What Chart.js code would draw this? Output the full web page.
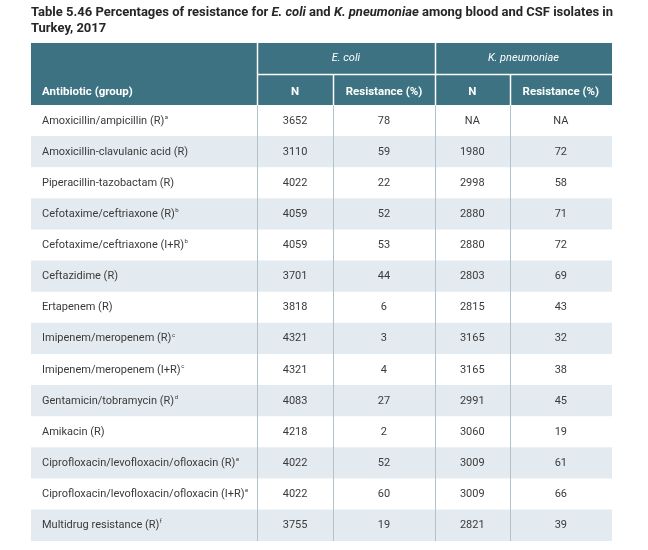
<!DOCTYPE html>
<html>
<head>
<meta charset="utf-8">
<script src="https://cdn.jsdelivr.net/npm/chart.js@4"></script>
<style>
    body { margin: 0; background: #fff; }
    .wrap { position: relative; width: 648px; height: 550px; }
    .title {
        position: absolute; left: 31px; top: 4px; width: 615px;
        font: bold 13px 'Roboto', sans-serif; line-height: 16px; color: #262626;
        white-space: nowrap;
    }
    canvas { position: absolute; left: 0; top: 0; }
</style>
</head>
<body>
<div class="wrap">
    <canvas id="tableChart" width="648" height="550"></canvas>
    <div class="title">Table 5.46 Percentages of resistance for <i>E. coli</i> and <i>K. pneumoniae</i> among blood and CSF isolates in<br>Turkey, 2017</div>
</div>
<script>
const ANTIBIOTICS = [
    'Amoxicillin/ampicillin (R)',
    'Amoxicillin-clavulanic acid (R)',
    'Piperacillin-tazobactam (R)',
    'Cefotaxime/ceftriaxone (R)',
    'Cefotaxime/ceftriaxone (I+R)',
    'Ceftazidime (R)',
    'Ertapenem (R)',
    'Imipenem/meropenem (R)',
    'Imipenem/meropenem (I+R)',
    'Gentamicin/tobramycin (R)',
    'Amikacin (R)',
    'Ciprofloxacin/levofloxacin/ofloxacin (R)',
    'Ciprofloxacin/levofloxacin/ofloxacin (I+R)',
    'Multidrug resistance (R)'
];
const FOOTNOTES = ['a', '', '', 'b', 'b', '', '', 'c', 'c', 'd', '', 'e', 'e', 'f'];

const ECOLI_N = [3652, 3110, 4022, 4059, 4059, 3701, 3818, 4321, 4321, 4083, 4218, 4022, 4022, 3755];
const ECOLI_RES = [78, 59, 22, 52, 53, 44, 6, 3, 4, 27, 2, 52, 60, 19];
const KPN_N = ['NA', 1980, 2998, 2880, 2880, 2803, 2815, 3165, 3165, 2991, 3060, 3009, 3009, 2821];
const KPN_RES = ['NA', 72, 58, 71, 72, 69, 43, 32, 38, 45, 19, 61, 66, 39];

const GROUPS = ['E. coli', 'K. pneumoniae'];
const COLUMNS = ['Antibiotic (group)', 'N', 'Resistance (%)', 'N', 'Resistance (%)'];

// column edges in percent of table width
const EDGES = [0, 38.9, 52.0, 69.5, 82.4, 100];

const HEAD = '#3c7282';
const SHADE = '#e4ebf0';
const LINE = '#b3c1cb';
const TEXT = '#3a3a3a';
const FONT = "'Roboto', sans-serif";

const rowLabels = ['head1', 'head2', ...ANTIBIOTICS];
const rowColors = rowLabels.map((_, i) => i < 2 ? HEAD : ((i - 2) % 2 ? SHADE : '#ffffff'));

const mid = c => (EDGES[c] + EDGES[c + 1]) / 2;

const tablePlugin = {
    id: 'tableText',
    afterDatasetsDraw(chart) {
        const { ctx, scales: { x, y }, chartArea } = chart;
        const top = chartArea.top;
        const step = y.getPixelForValue(1) - y.getPixelForValue(0);
        const half = y.getPixelForValue(0) + step / 2;
        const headBottom = y.getPixelForValue(1) + step / 2;
        const bottom = chartArea.bottom;

        ctx.save();

        // body column lines
        ctx.strokeStyle = LINE;
        ctx.lineWidth = 1;
        for (let c = 1; c < EDGES.length - 1; c++) {
            const px = Math.round(x.getPixelForValue(EDGES[c])) + 0.5;
            ctx.beginPath();
            ctx.moveTo(px, headBottom);
            ctx.lineTo(px, bottom);
            ctx.stroke();
        }

        // header lines
        ctx.strokeStyle = '#ffffff';
        ctx.lineWidth = 1.5;
        [1, 3].forEach(c => {
            const px = Math.round(x.getPixelForValue(EDGES[c])) + 0.5;
            ctx.beginPath(); ctx.moveTo(px, top); ctx.lineTo(px, headBottom); ctx.stroke();
        });
        [2, 4].forEach(c => {
            const px = Math.round(x.getPixelForValue(EDGES[c])) + 0.5;
            ctx.beginPath(); ctx.moveTo(px, half); ctx.lineTo(px, headBottom); ctx.stroke();
        });
        ctx.beginPath();
        ctx.moveTo(x.getPixelForValue(EDGES[1]), Math.round(half) + 0.5);
        ctx.lineTo(x.getPixelForValue(EDGES[5]), Math.round(half) + 0.5);
        ctx.stroke();

        // header text
        ctx.fillStyle = '#ffffff';
        ctx.textBaseline = 'middle';
        ctx.textAlign = 'center';
        ctx.font = 'italic 11px ' + FONT;
        ctx.fillText(GROUPS[0], x.getPixelForValue((EDGES[1] + EDGES[3]) / 2), y.getPixelForValue(0));
        ctx.fillText(GROUPS[1], x.getPixelForValue((EDGES[3] + EDGES[5]) / 2), y.getPixelForValue(0));

        ctx.font = 'bold 11.5px ' + FONT;
        const subY = y.getPixelForValue(1) + 2;
        ctx.textAlign = 'left';
        ctx.fillText(COLUMNS[0], x.getPixelForValue(EDGES[0]) + 11, subY);
        ctx.textAlign = 'center';
        for (let c = 1; c < COLUMNS.length; c++) {
            ctx.fillText(COLUMNS[c], x.getPixelForValue(mid(c)), subY);
        }

        // body text
        ctx.fillStyle = TEXT;
        ANTIBIOTICS.forEach((name, i) => {
            const py = y.getPixelForValue(i + 2);
            ctx.font = '11px ' + FONT;
            ctx.textAlign = 'left';
            const lx = x.getPixelForValue(EDGES[0]) + 11;
            ctx.fillText(name, lx, py);
            if (FOOTNOTES[i]) {
                const w = ctx.measureText(name).width;
                ctx.font = '6px ' + FONT;
                ctx.fillText(FOOTNOTES[i], lx + w + 0.5, py - 3.5);
            }
            ctx.font = '11px ' + FONT;
            ctx.textAlign = 'center';
            [ECOLI_N[i], ECOLI_RES[i], KPN_N[i], KPN_RES[i]].forEach((v, c) => {
                ctx.fillText(String(v), x.getPixelForValue(mid(c + 1)), py);
            });
        });

        ctx.restore();
    }
};

const ctx1 = document.getElementById('tableChart').getContext('2d');

new Chart(ctx1, {
    type: 'bar',
    data: {
        labels: rowLabels,
        datasets: [{
            data: rowLabels.map(() => [EDGES[0], EDGES[EDGES.length - 1]]),
            backgroundColor: rowColors,
            borderWidth: 0,
            barPercentage: 1,
            categoryPercentage: 1
        }]
    },
    options: {
        indexAxis: 'y',
        responsive: false,
        animation: false,
        layout: { padding: { left: 31, right: 36, top: 43, bottom: 9 } },
        plugins: { legend: { display: false }, tooltip: { enabled: false } },
        events: [],
        scales: {
            x: { type: 'linear', min: 0, max: 100, display: false },
            y: { type: 'category', display: false, offset: true }
        }
    },
    plugins: [tablePlugin]
});
</script>
</body>
</html>
